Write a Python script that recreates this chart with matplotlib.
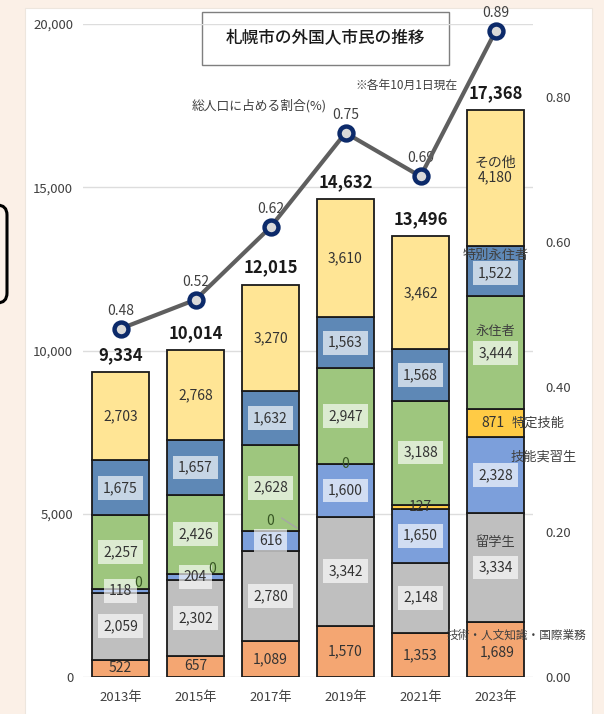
import numpy as np
import matplotlib
matplotlib.use('Agg')
import matplotlib.pyplot as plt
from matplotlib.patches import Rectangle, FancyBboxPatch

plt.rcParams['font.family'] = ['Noto Sans CJK JP', 'DejaVu Sans']

# data
years = ['2013年', '2015年', '2017年', '2019年', '2021年', '2023年']
categories = ['技術・人文知識・国際業務', '留学生', '技能実習生', '特定技能', '永住者', '特別永住者', 'その他']
gijutsu = [522, 657, 1089, 1570, 1353, 1689]
ryugaku = [2059, 2302, 2780, 3342, 2148, 3334]
jisshu = [118, 204, 616, 1600, 1650, 2328]
tokutei = [0, 0, 0, 0, 127, 871]
eiju = [2257, 2426, 2628, 2947, 3188, 3444]
tokubetsu = [1675, 1657, 1632, 1563, 1568, 1522]
sonota = [2703, 2768, 3270, 3610, 3462, 4180]
ratio = [0.48, 0.52, 0.62, 0.75, 0.69, 0.89]

series = [gijutsu, ryugaku, jisshu, tokutei, eiju, tokubetsu, sonota]
colors = ['#F4A672', '#BFBFBF', '#7C9FDB', '#FFCB45', '#9EC67E', '#5E88B6', '#FFE595']
boxed = [False, True, True, False, True, True, False]

fig = plt.figure(figsize=(6.04, 7.14), dpi=100)
fig.patch.set_facecolor('#FBF0E7')
# white panel
fig.patches.append(Rectangle((0.25, -0.1), 5.67, 7.16, transform=fig.dpi_scale_trans,
                             facecolor='white', edgecolor='#EDE6DE', lw=0.8, zorder=-5))
# rounded box cut off at the left
fig.patches.append(FancyBboxPatch((-0.4, 4.11), 0.47, 0.98, transform=fig.dpi_scale_trans,
                                  boxstyle='round,pad=0,rounding_size=0.1',
                                  facecolor='none', edgecolor='black', lw=2.2, zorder=-4))
# title box
fig.patches.append(Rectangle((2.02, 6.49), 2.47, 0.53, transform=fig.dpi_scale_trans,
                             facecolor='white', edgecolor='#7F7F7F', lw=1, zorder=-3))

ax = fig.add_axes([83 / 604, 37 / 714, 450 / 604, 653 / 714])
ax.set_facecolor('none')
x = np.arange(len(years))
w = 0.75

bottom = np.zeros(len(years))
bottoms = []
for vals, c in zip(series, colors):
    bottoms.append(bottom.copy())
    ax.bar(x, vals, w, bottom=bottom, color=c, edgecolor='#1A1A1A', lw=1.3, zorder=3)
    bottom += np.array(vals)
totals = bottom

ax.set_xlim(-0.5, 5.5)
ax.set_ylim(0, 20000)
ax.set_yticks([0, 5000, 10000, 15000, 20000])
ax.set_yticklabels(['0', '5,000', '10,000', '15,000', '20,000'])
ax.grid(axis='y', color='#DDDDDD', lw=1, zorder=0)
ax.set_axisbelow(True)
for s in ax.spines.values():
    s.set_visible(False)
ax.tick_params(axis='y', length=0, pad=7, labelsize=9.5, labelcolor='#404040')
ax.set_xticks(x)
ax.set_xticklabels(years)
ax.tick_params(axis='x', length=0, pad=10, labelsize=9.5, labelcolor='#404040')

# value labels in the bars
fs = 10
box = dict(boxstyle='square,pad=0.35', facecolor='white', alpha=0.65, edgecolor='none')
for i, vals in enumerate(series):
    for j, v in enumerate(vals):
        cy = bottoms[i][j] + v / 2
        if v == 0:
            continue
        if j == 5:
            continue
        ax.text(x[j], cy, f'{v:,}', ha='center', va='center', fontsize=fs, color='#333333',
                bbox=box if boxed[i] else None, zorder=5)

# zero labels for 特定技能
zero_off = [(0.23, 180), (0.22, 145), (0.0, 290), (0.0, 12)]
for j, (dx, dy) in enumerate(zero_off):
    ax.text(x[j] + dx, bottoms[3][j] + dy, '0', ha='center', va='center', fontsize=fs,
            color='#375623', zorder=6)
ax.plot([x[2] + 0.15, x[2] + 0.35], [bottoms[3][2] + 380, bottoms[3][2] + 80],
        color='#A6A6A6', lw=1, zorder=6, clip_on=False)

# 2023 labels with category names
j = 5
nm = dict(fontsize=9.5, color='#404040', zorder=6, clip_on=False)
cy = [bottoms[i][j] + series[i][j] / 2 for i in range(7)]
ax.text(x[j], cy[6] + 250, 'その他\n' + f'{sonota[j]:,}', ha='center', va='center',
        linespacing=1.1, fontsize=fs, color='#333333', zorder=6)
ax.text(x[j], cy[5] - 60, f'{tokubetsu[j]:,}', ha='center', va='center', fontsize=fs,
        color='#333333', bbox=box, zorder=5)
ax.text(x[j], bottoms[6][j] - 290, '特別永住者', ha='center', va='center', **nm)
ax.text(x[j], cy[4] - 20, f'{eiju[j]:,}', ha='center', va='center', fontsize=fs,
        color='#333333', bbox=box, zorder=5)
ax.text(x[j], cy[4] + 650, '永住者', ha='center', va='center', **nm)
ax.text(x[j] - 0.03, cy[3], f'{tokutei[j]:,}', ha='center', va='center', fontsize=fs,
        color='#333333', zorder=6)
ax.text(x[j] + 0.21, cy[3], '特定技能', ha='left', va='center', **nm)
ax.text(x[j], cy[2], f'{jisshu[j]:,}', ha='center', va='center', fontsize=fs,
        color='#333333', bbox=box, zorder=5)
ax.text(x[j] + 0.2, cy[2] + 550, '技能実習生', ha='left', va='center', **nm)
ax.text(x[j], cy[1], f'{ryugaku[j]:,}', ha='center', va='center', fontsize=fs,
        color='#333333', bbox=box, zorder=5)
ax.text(x[j], cy[1] + 750, '留学生', ha='center', va='center', **nm)
ax.text(x[j] + 0.02, cy[0] - 75, f'{gijutsu[j]:,}', ha='center', va='center', fontsize=fs,
        color='#333333', zorder=6)
ax.text(x[j] + 0.28, cy[0] + 440, '技術・人文知識・国際業務', ha='center', va='center',
        fontsize=8.4, color='#404040', zorder=6, clip_on=False)

# totals
for j, t in enumerate(totals):
    ax.text(x[j], t + 250, f'{int(t):,}', ha='center', va='bottom', fontsize=12,
            fontweight='bold', color='#1A1A1A', zorder=6)

# ratio line on right axis
ax2 = ax.twinx()
ax2.set_ylim(0, 0.9)
ax2.set_yticks([0, 0.2, 0.4, 0.6, 0.8])
ax2.set_yticklabels([f'{v:.2f}' for v in [0, 0.2, 0.4, 0.6, 0.8]])
ax2.tick_params(axis='y', length=0, pad=9, labelsize=9.5, labelcolor='#404040')
for s in ax2.spines.values():
    s.set_visible(False)
ax2.plot(x, ratio, color='#5F5F5F', lw=3, marker='o', markersize=10,
         markerfacecolor='#D9D9D9', markeredgecolor='#0C2A6A', markeredgewidth=3.2,
         zorder=7, clip_on=False)
for xi, r in zip(x, ratio):
    ax2.text(xi, r + 0.025, f'{r:.2f}', ha='center', va='center', fontsize=10,
             color='#404040', clip_on=False)

# title and notes
fig.text(3.255 / 6.04, 6.755 / 7.14, '札幌市の外国人市民の推移', ha='center', va='center',
         fontsize=12, fontweight='medium', color='#1A1A1A')
fig.text(4.06 / 6.04, (714 - 85) / 714, '※各年10月1日現在', ha='center', va='center',
         fontsize=8.5, color='#404040')
fig.text(2.59 / 6.04, (714 - 106) / 714, '総人口に占める割合(%)', ha='center', va='center',
         fontsize=9.2, color='#404040')

fig.savefig('out.png', dpi=100)
